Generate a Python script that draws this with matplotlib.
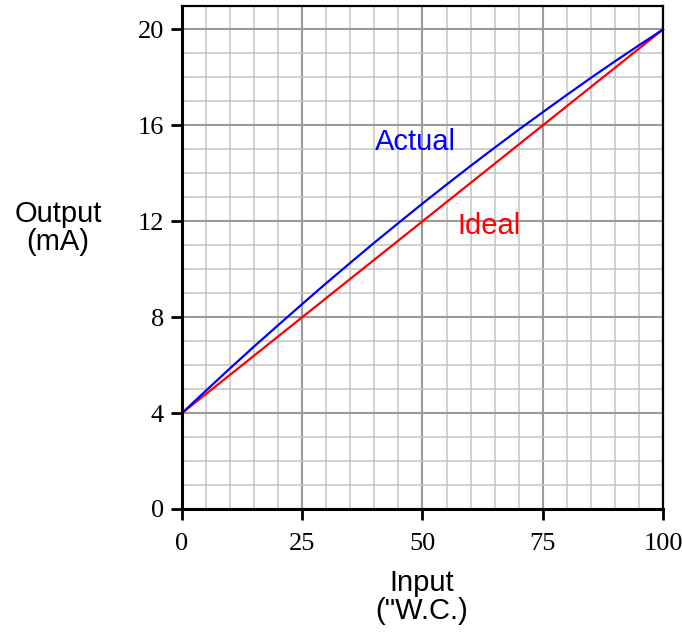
import matplotlib
matplotlib.use("Agg")
import matplotlib.pyplot as plt

# input ("W.C.) and output (mA) readings
inp = [0, 5, 10, 15, 20, 25, 30, 35, 40, 45, 50, 55, 60, 65, 70, 75, 80, 85, 90, 95, 100]
actual = [4.0, 4.94, 5.87, 6.78, 7.67, 8.55, 9.42, 10.27, 11.11, 11.93, 12.74,
          13.53, 14.31, 15.07, 15.82, 16.55, 17.27, 17.98, 18.67, 19.34, 20.0]
ideal_x = [0, 100]
ideal_y = [4, 20]

xticks = [0, 25, 50, 75, 100]
yticks = [0, 4, 8, 12, 16, 20]

fig = plt.figure(figsize=(6.82, 6.34), dpi=100)
ax = fig.add_axes([0.2669, 0.1972, 0.7052, 0.7941])

ax.set_xlim(0, 100)
ax.set_ylim(0, 21)
ax.set_xticks(xticks)
ax.set_yticks(yticks)
ax.set_xticks(range(0, 101, 5), minor=True)
ax.set_yticks(range(0, 22), minor=True)
ax.grid(which="minor", color="#c4c4c4", linewidth=1.1)
ax.grid(which="major", color="#9a9a9a", linewidth=1.5)
ax.set_axisbelow(True)

ax.plot(ideal_x, ideal_y, color="#ff0000", linewidth=1.6, clip_on=False)
ax.plot(inp, actual, color="#0000ff", linewidth=1.6, clip_on=False)

ax.text(48.5, 15.3, "Actual", color="#0000ff", fontsize=21,
        family="Liberation Sans", ha="center", va="center")
ax.text(63.8, 11.8, "Ideal", color="#ff0000", fontsize=21,
        family="Liberation Sans", ha="center", va="center")

ax.tick_params(which="major", length=8, width=2, direction="out", labelsize=19)
ax.tick_params(axis="x", pad=9)
ax.tick_params(axis="y", pad=5)
ax.tick_params(which="minor", length=0)
for lab in ax.get_xticklabels() + ax.get_yticklabels():
    lab.set_family("Liberation Serif")

for s in ["left", "bottom"]:
    ax.spines[s].set_linewidth(2.2)
for s in ["top", "right"]:
    ax.spines[s].set_linewidth(1.6)

fig.text(58 / 682, 1 - 228 / 634, "Output\n(mA)", fontsize=21,
         family="Liberation Sans", ha="center", va="center", linespacing=1.0)
fig.text(422 / 682, 1 - 597 / 634, "Input\n(\"W.C.)", fontsize=21,
         family="Liberation Sans", ha="center", va="center", linespacing=1.0)

fig.savefig("out.png", dpi=100)
